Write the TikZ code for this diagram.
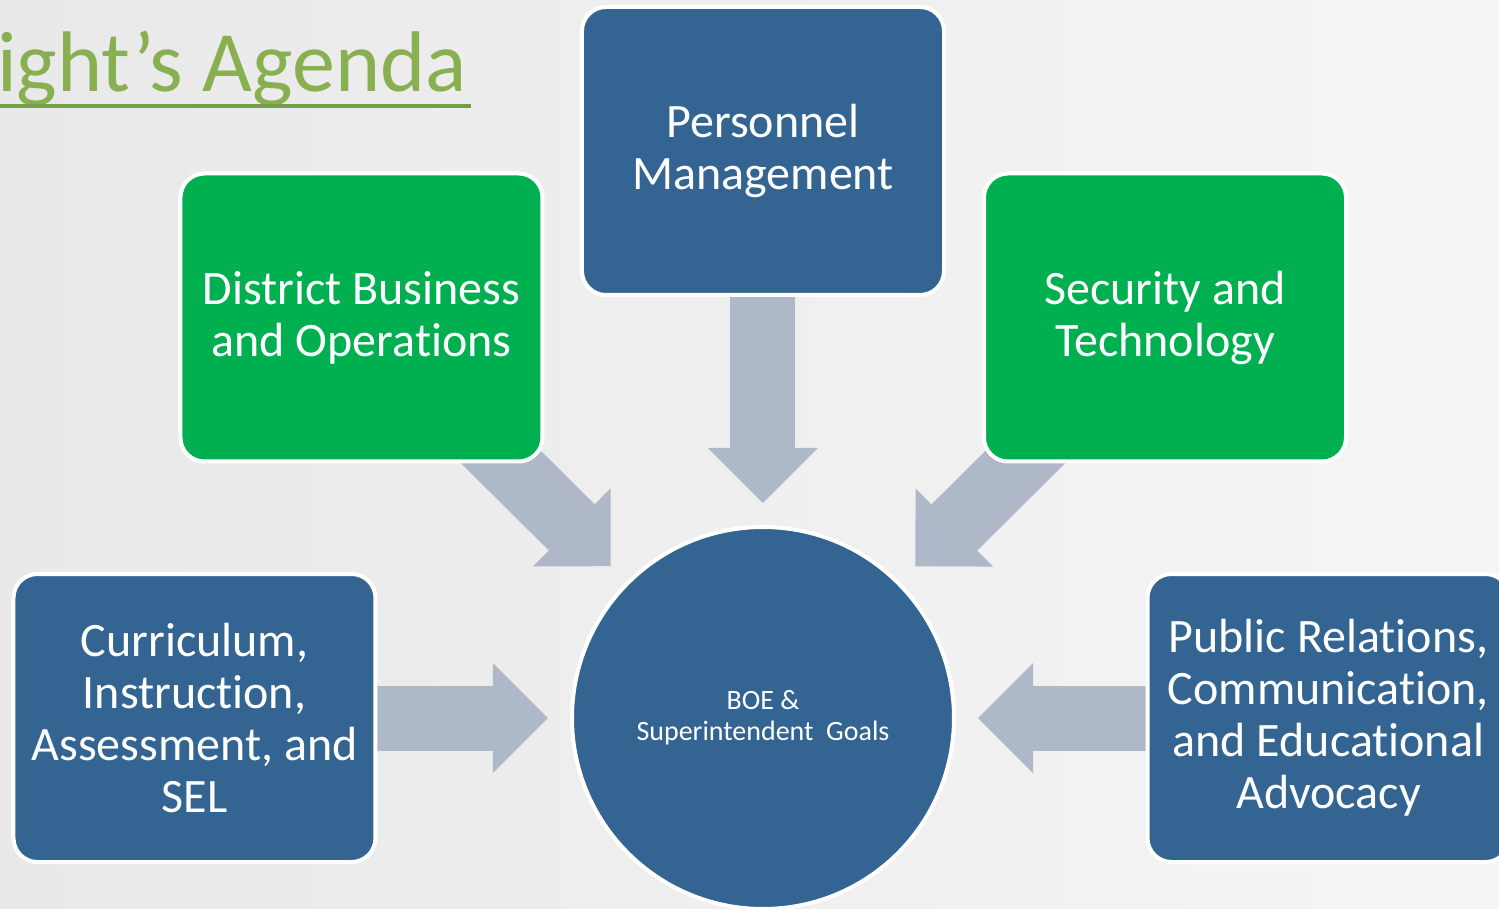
\documentclass[tikz,border=0pt]{standalone}
\usepackage{fontspec}
\setmainfont{Carlito}[Ligatures={NoCommon,NoContextual}]
\usetikzlibrary{positioning,arrows.meta}

\definecolor{boeblue}{RGB}{52,100,145}
\definecolor{opgreen}{RGB}{0,176,80}
\definecolor{arrowgray}{RGB}{174,184,200}
\definecolor{titlegreen}{RGB}{136,176,80}
\definecolor{linegreen}{RGB}{118,158,68}
\definecolor{bgdark}{RGB}{233,233,233}
\definecolor{bglight}{RGB}{245,245,245}

\begin{document}
\begin{tikzpicture}[
% Change style
	x=1pt, y=1pt,
	on grid,
	flow/.style={draw=arrowgray, line width=65pt, shorten >=24pt, shorten <=-40pt,
		-{Triangle[width=110pt,length=55pt,line width=0pt]}},
	topic/.style={draw=white, line width=4pt, rounded corners=24pt,
		minimum width=362pt, minimum height=288pt, outer sep=0pt,
		text=white, align=center, font=\fontsize{48}{52}\selectfont},
	bluebox/.style={topic, fill=boeblue},
	greenbox/.style={topic, fill=opgreen}]

\pgfdeclarelayer{background}
\pgfsetlayers{background,main}

\useasboundingbox (-763,-190) rectangle (736,718);

% Goals circle
\node[circle, fill=boeblue, draw=white, line width=4pt,
	minimum size=382pt, outer sep=0pt, text=white, align=center,
	font=\fontsize{28}{31}\selectfont] (boe) {BOE \&\\Superintendent~ Goals};

% Personnel
\node[bluebox, above=567pt of boe] (pm) {Personnel\\Management};

% District business
\node[greenbox, above left=400.5pt and 401.5pt of boe] (dbo) {District Business\\and Operations};

% Security
\node[greenbox, above right=400.5pt and 402pt of boe] (sec) {Security and\\Technology};

% Curriculum
\node[bluebox, left=568.5pt of boe] (cia) {Curriculum,\\Instruction,\\Assessment, and\\SEL};

% Public relations
\node[bluebox, right=565.5pt of boe] (pr) {Public Relations,\\Communication,\\and Educational\\Advocacy};

% Title
\node[anchor=base west, inner sep=0pt, text=titlegreen,
	font=\fontsize{86}{100}\selectfont] (title) at (-766,626) {ight’s Agenda};
\draw[linegreen, line width=4pt] ([yshift=-14pt]title.base west) -- ([yshift=-14pt,xshift=4pt]title.base east);

% Arrows
\begin{pgfonlayer}{background}
\shade[left color=bgdark, right color=bglight] (-763,-190) rectangle (736,718);
\draw[flow] (pm) -- (boe);
\draw[flow] (dbo) -- (boe);
\draw[flow] (sec) -- (boe);
\draw[flow] (cia) -- (boe);
\draw[flow] (pr) -- (boe);
\end{pgfonlayer}

\end{tikzpicture}
\end{document}
